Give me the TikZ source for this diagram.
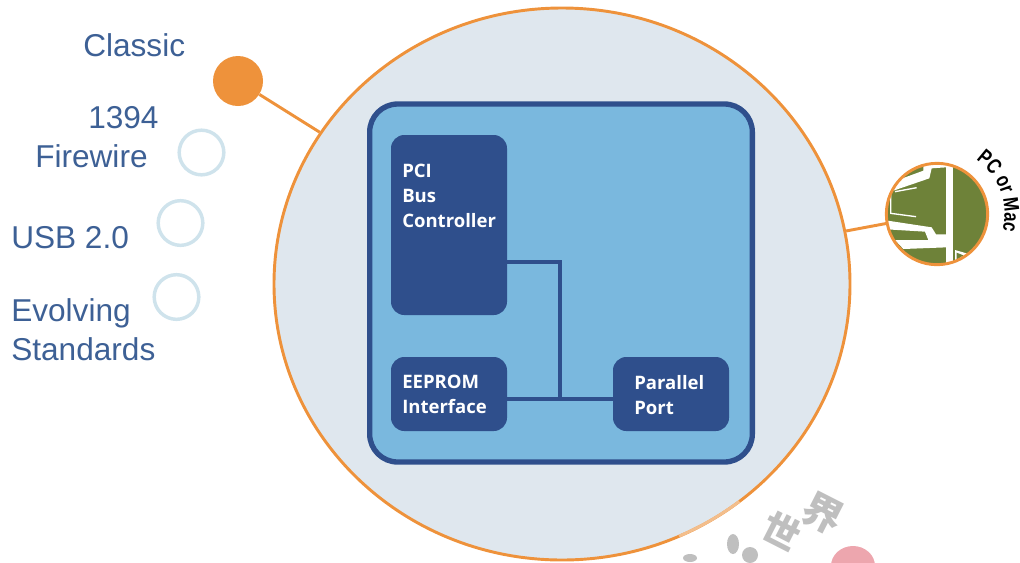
\documentclass[tikz,border=0pt]{standalone}
\usepackage{fontspec}
\setmainfont{Liberation Sans}
\newfontfamily\boxf{Open Sans}
\newfontfamily\arcf[FakeStretch=0.78]{Liberation Sans}
\newfontfamily\cjkf{Noto Sans CJK SC}
\usetikzlibrary{decorations.text,shapes.geometric}
\definecolor{orangeC}{HTML}{EE923B}
\definecolor{fadeC}{HTML}{F3BE8C}
\definecolor{paleC}{HTML}{DFE7EE}
\definecolor{ringC}{HTML}{CFE3EC}
\definecolor{labelC}{HTML}{3D6095}
\definecolor{navyC}{HTML}{2F4F8C}
\definecolor{skyC}{HTML}{7AB8DE}
\definecolor{greenC}{HTML}{6E8239}
\definecolor{wmRed}{HTML}{EDA6AE}
\tikzset{
  x=0.75pt,y=-0.75pt,
  sidelabel/.style={anchor=base west,inner sep=0,text=labelC,font=\fontsize{23.7pt}{29pt}\selectfont},
  ring/.style={circle,draw=ringC,line width=2.6pt,fill=white,minimum size=33.5pt,inner sep=0},
  chip/.style={draw=none,fill=navyC,rounded corners=10pt,inner sep=0},
  chiplabel/.style={anchor=north west,inner sep=0,align=left,text=white,font=\boxf\bfseries\fontsize{13.9pt}{18.6pt}\selectfont},
  wire/.style={draw=navyC,line width=3pt},
  orangeline/.style={draw=orangeC,line width=2.2pt},
  wmtext/.style={rotate=-27,text=black!25,font=\cjkf\bfseries},
  wmblot/.style={fill=black!25}
}
\begin{document}
\begin{tikzpicture}
\useasboundingbox[clip] (0,0) rectangle (1020,562);
% watermark
\node[wmtext,font=\cjkf\bfseries\fontsize{30pt}{30pt}\selectfont] (wmA) at (823,514) {界};
\node[wmtext,font=\cjkf\bfseries\fontsize{28pt}{28pt}\selectfont] (wmB) at (782,531) {世};
\fill[wmblot] (733,544) ellipse [x radius=6,y radius=10];
\fill[wmblot] (750,555) ellipse [x radius=8,y radius=8];
\fill[wmblot] (690,558) ellipse [x radius=7,y radius=4];
\fill[wmRed] (853,566) ellipse [x radius=22,y radius=20];
% main circles
\node[ellipse,draw=orangeC,line width=2.2pt,fill=paleC,minimum width=432pt,minimum height=414pt,inner sep=0] (big) at (562,284) {};
\coordinate (fadeStart) at (679.1,536.1);
\draw[fadeC,line width=2.2pt] (fadeStart) arc[start angle=66,end angle=52,x radius=288,y radius=276];
\node[circle,fill=orangeC,minimum size=37.5pt,inner sep=0] (classic) at (238,81) {};
\node[ring] (fw) at (201.5,152.5) {};
\node[ring] (usb) at (180.5,223) {};
\node[ring] (evo) at (176.5,297) {};
\draw[orangeline] (classic) -- (big);
% right circle
\node[circle,fill=greenC,minimum size=76pt,inner sep=0] (pc) at (937,214) {};
\begin{scope}
\clip (937,214) circle [radius=50.5];
\begin{scope}[shift={(860,130)},x=0.25pt,y=-0.25pt]
\fill[white] (190,95) -- (190,122) -- (100,155) -- (85,190) -- (100,182) -- (208,145) -- (215,115) -- (258,112) -- (258,90) -- cycle;
\fill[white] (70,270) -- (215,292) -- (228,313) -- (260,313) -- (260,352) -- (130,357) -- (105,330) -- (205,330) -- (195,305) -- (80,298) -- cycle;
\fill[white] (258,90) rectangle (280,410);
\fill[white] (285,360) -- (330,373) -- (300,395) -- (285,398) -- cycle;
\fill[greenC] (290,368) -- (310,376) -- (290,390) -- cycle;
\draw[white,line width=1pt] (105,185) -- (170,173);
\draw[white,line width=1pt] (92,190) -- (92,250) -- (168,260);
\end{scope}
\end{scope}
\node[circle,draw=orangeC,line width=2.2pt,minimum size=76pt,inner sep=0] (pcrim) at (937,214) {};
\draw[orangeline] (big) -- (pc);
\coordinate (arcStart) at (976,159.2);
\path[decorate,decoration={text along path,text align=left,
  text={|\arcf\bfseries\fontsize{16pt}{16pt}\selectfont|PC or Mac}}]
  (arcStart) arc[start angle=-55,end angle=30,radius=67];
% board
\node[draw=navyC,line width=4pt,fill=skyC,rounded corners=21pt,minimum width=287pt,minimum height=268.5pt,inner sep=0] (board) at (561,283) {};
\node[chip,minimum width=87pt,minimum height=135pt] (pci) at (449,225) {};
\node[chip,minimum width=87pt,minimum height=55.5pt] (ee) at (449,394) {};
\node[chip,minimum width=87pt,minimum height=55.5pt] (pp) at (671,394) {};
\coordinate (tee) at (560,399);
\coordinate (pcistub) at (507,262);
\draw[wire] (pcistub) -- (560,262) -- (tee);
\draw[wire] (ee.east |- tee) -- (pp.west |- tee);
\node[chiplabel] (t1) at (402,164) {PCI\\Bus\\Controller};
\node[chiplabel] (t2) at (402,375) {EEPROM\\Interface};
\node[chiplabel] (t3) at (634,375) {Parallel\\Port};
% side labels
\node[sidelabel] (l1) at (83,56) {Classic};
\node[sidelabel] (l2) at (88,128) {1394};
\node[sidelabel] (l3) at (35,167) {Firewire};
\node[sidelabel] (l4) at (11,248) {USB 2.0};
\node[sidelabel] (l5) at (11,321) {Evolving};
\node[sidelabel] (l6) at (11,360) {Standards};
\end{tikzpicture}
\end{document}
